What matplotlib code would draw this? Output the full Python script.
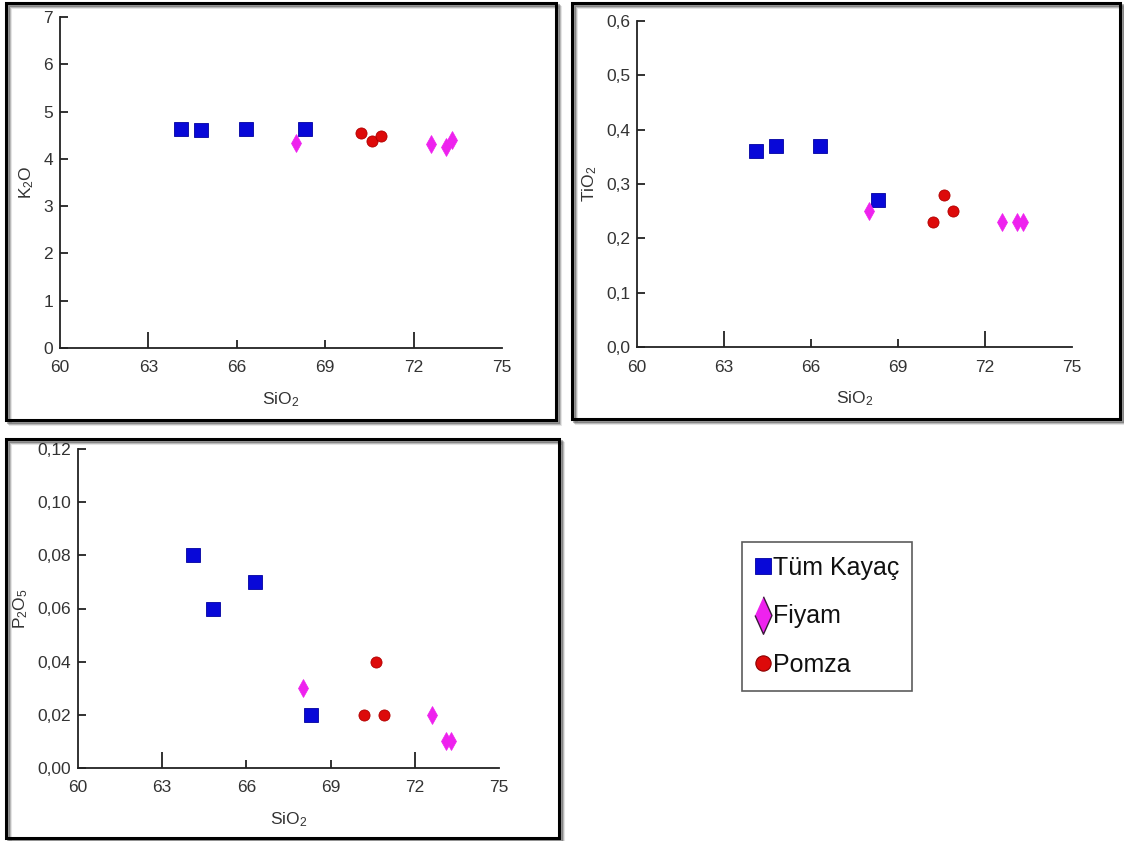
import matplotlib
matplotlib.use("Agg")
import matplotlib.pyplot as plt
from matplotlib.lines import Line2D
from matplotlib.patches import Rectangle
from matplotlib.ticker import FuncFormatter

plt.rcParams["font.family"] = ["Liberation Sans", "DejaVu Sans"]
plt.rcParams["mathtext.fontset"] = "custom"
plt.rcParams["mathtext.rm"] = "Liberation Sans"
plt.rcParams["mathtext.it"] = "Liberation Sans"

# SiO2 (x) for each group
sio2_tum = [64.1, 64.8, 66.3, 68.3]
sio2_fiyam = [68.0, 72.6, 73.1, 73.3]
sio2_pomza = [70.2, 70.6, 70.9]

# K2O
k2o_tum = [4.64, 4.60, 4.64, 4.64]
k2o_fiyam = [4.33, 4.31, 4.26, 4.40]
k2o_pomza = [4.54, 4.38, 4.48]

# TiO2
tio2_tum = [0.36, 0.37, 0.37, 0.27]
tio2_fiyam = [0.25, 0.23, 0.23, 0.23]
tio2_pomza = [0.23, 0.28, 0.25]

# P2O5
p2o5_tum = [0.08, 0.06, 0.07, 0.02]
p2o5_fiyam = [0.03, 0.02, 0.01, 0.01]
p2o5_pomza = [0.02, 0.04, 0.02]

group_labels = ["Tüm Kayaç", "Fiyam", "Pomza"]
x_ticks = [60, 63, 66, 69, 72, 75]

BLUE = "#0808D8"
MAGENTA = "#EE22EE"
RED = "#DD0A0A"
TXT = "#333333"

W, H = 1124, 841
fig = plt.figure(figsize=(W / 100, H / 100), dpi=100)


def px_rect(x0, y0, x1, y1):
    # pixel box (top-left origin) -> figure fraction
    return [x0 / W, 1 - y1 / H, (x1 - x0) / W, (y1 - y0) / H]


def panel_frame(x0, y0, x1, y1):
    for off, a in [(4, 0.10), (3, 0.18), (2, 0.28)]:
        l, b, w, h = px_rect(x0 + off, y0 + off, x1 + off, y1 + off)
        fig.patches.append(Rectangle((l, b), w, h, transform=fig.transFigure,
                                     fill=False, lw=2.2, ec="k", alpha=a, zorder=0))
    l, b, w, h = px_rect(x0, y0, x1, y1)
    fig.patches.append(Rectangle((l, b), w, h, transform=fig.transFigure,
                                 fill=False, lw=2.2, ec="black", zorder=1))


def setup_axes(rect, ymax, yticks, ydec, ylabel):
    ax = fig.add_axes(px_rect(*rect))
    ax.set_xlim(60, 75)
    ax.set_ylim(0, ymax)
    for s in ["top", "right"]:
        ax.spines[s].set_visible(False)
    for s in ["left", "bottom"]:
        ax.spines[s].set_color("#222222")
        ax.spines[s].set_linewidth(1.3)
    ax.set_xticks(x_ticks)
    ax.set_yticks(yticks)
    ax.yaxis.set_major_formatter(
        FuncFormatter(lambda v, p: f"{v:.{ydec}f}".replace(".", ",")))
    ax.tick_params(direction="in", colors="#222222", labelcolor=TXT,
                   labelsize=12.5, width=1.3)
    ax.tick_params(axis="y", length=5.5, pad=5)
    ax.tick_params(axis="x", pad=9)
    for t, v in zip(ax.xaxis.get_major_ticks(), x_ticks):
        size = 0 if v in (60, 75) else (11.5 if v in (63, 72) else 5.5)
        t.tick1line.set_markersize(size)
    ax.set_xlabel("SiO$_2$", fontsize=12.5, color=TXT, labelpad=11)
    ax.set_ylabel(ylabel, fontsize=12.5, color=TXT, labelpad=5)
    ax.patch.set_alpha(0)
    return ax


def draw_groups(ax, y_tum, y_fiyam, y_pomza):
    ax.plot(sio2_tum, y_tum, ls="none", marker="s", ms=9.4, mfc=BLUE,
            mec="#0000A0", mew=0.6, clip_on=False)
    ax.plot(sio2_fiyam, y_fiyam, ls="none", marker="d", ms=8.8, mfc=MAGENTA,
            mec=MAGENTA, mew=0.5, clip_on=False)
    ax.plot(sio2_pomza, y_pomza, ls="none", marker="o", ms=8.0, mfc=RED,
            mec="#B00000", mew=0.6, clip_on=False)


panel_frame(6, 3, 556, 420)
panel_frame(572, 3, 1120, 419)
panel_frame(6, 439, 559, 838)

ax1 = setup_axes((60, 17, 502, 348), 7, range(0, 8), 0, "K$_2$O")
draw_groups(ax1, k2o_tum, k2o_fiyam, k2o_pomza)

ax2 = setup_axes((637, 21, 1072, 347), 0.6,
                 [0, 0.1, 0.2, 0.3, 0.4, 0.5, 0.6], 1, "TiO$_2$")
draw_groups(ax2, tio2_tum, tio2_fiyam, tio2_pomza)

ax3 = setup_axes((78, 449, 499, 768), 0.12,
                 [0, 0.02, 0.04, 0.06, 0.08, 0.10, 0.12], 2, "P$_2$O$_5$")
draw_groups(ax3, p2o5_tum, p2o5_fiyam, p2o5_pomza)

# legend
thin_diamond = [(0, 1), (0.45, 0), (0, -1), (-0.45, 0)]
handles = [
    Line2D([], [], ls="none", marker="s", ms=11.5, mfc=BLUE, mec="#0000A0", mew=0.6),
    Line2D([], [], ls="none", marker=thin_diamond, ms=27, mfc=MAGENTA,
           mec="#3A1A3A", mew=1.0),
    Line2D([], [], ls="none", marker="o", ms=11, mfc=RED, mec="#8A0000", mew=0.8),
]
l, b, w, h = px_rect(742, 542, 912, 687)
leg = fig.legend(handles, group_labels, loc="upper left",
                 bbox_to_anchor=(l, b, w, h), mode="expand",
                 prop={"size": 18}, frameon=True, fancybox=False,
                 edgecolor="#333333", borderpad=0.55, labelspacing=0.98,
                 handlelength=0.6, handletextpad=0.08, borderaxespad=0)
leg.get_frame().set_linewidth(1.2)
for t in leg.get_texts():
    t.set_color("#111111")

fig.savefig("out.png", dpi=100)
